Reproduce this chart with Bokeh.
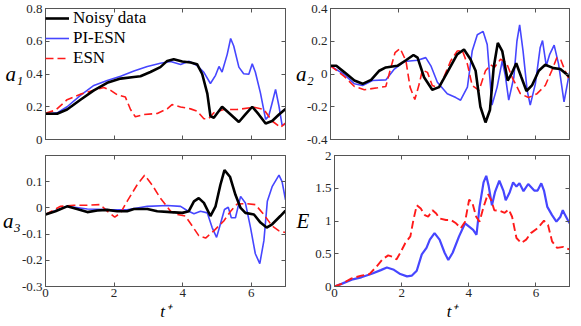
from bokeh.plotting import figure
from bokeh.layouts import column, row
from bokeh.models import FixedTicker, LinearAxis, Legend, LegendItem, Range1d
from bokeh.embed import file_html
from bokeh.resources import INLINE

# ---------------- data ----------------
T_TICKS = [0, 2, 4, 6]
T_TICK_LABELS = ["0", "2", "4", "6"]
T_TITLE = "t\u207a"

A1_TICKS = [0, 0.2, 0.4, 0.6, 0.8]
A1_TICK_LABELS = ["0", "0.2", "0.4", "0.6", "0.8"]
A2_TICKS = [-0.4, -0.2, 0, 0.2, 0.4]
A2_TICK_LABELS = ["-0.4", "-0.2", "0", "0.2", "0.4"]
A3_TICKS = [-0.3, -0.2, -0.1, 0, 0.1]
A3_TICK_LABELS = ["-0.3", "-0.2", "-0.1", "0", "0.1"]
E_TICKS = [0, 0.5, 1, 1.5, 2]
E_TICK_LABELS = ["0", "0.5", "1", "1.5", "2"]

SERIES_NAMES = ["Noisy data", "PI-ESN", "ESN"]

# a1
A1_NOISY_T = [0, 0.34, 0.63, 1.02, 1.41, 1.80, 2.19, 2.58, 2.77, 3.06, 3.35, 3.55, 3.74, 3.99, 4.23, 4.42, 4.57,
              4.72, 4.81, 4.91, 5.15, 5.40, 5.64, 5.83, 6.03, 6.22, 6.42, 6.61, 6.81, 7.0]
A1_NOISY = [0.157, 0.157, 0.183, 0.243, 0.30, 0.346, 0.372, 0.382, 0.386, 0.412, 0.442, 0.48, 0.49, 0.476, 0.47,
            0.46, 0.40, 0.28, 0.143, 0.133, 0.20, 0.153, 0.107, 0.153, 0.20, 0.153, 0.098, 0.113, 0.153, 0.187]
A1_PI_T = [0, 0.34, 0.63, 1.02, 1.41, 1.80, 2.19, 2.58, 2.97, 3.35, 3.65, 3.94, 4.18, 4.42, 4.62, 4.81, 4.96, 5.06,
           5.15, 5.30, 5.40, 5.49, 5.64, 5.78, 5.93, 6.03, 6.12, 6.27, 6.42, 6.51, 6.61, 6.71, 6.81, 6.90, 7.0]
A1_PI = [0.157, 0.163, 0.20, 0.27, 0.33, 0.36, 0.386, 0.418, 0.446, 0.466, 0.476, 0.458, 0.478, 0.452, 0.41, 0.342,
         0.392, 0.446, 0.412, 0.52, 0.617, 0.571, 0.442, 0.402, 0.398, 0.462, 0.412, 0.283, 0.123, 0.143, 0.223,
         0.306, 0.203, 0.088, 0.094]
A1_ESN_T = [0, 0.3, 0.63, 1.02, 1.41, 1.70, 1.90, 2.09, 2.33, 2.48, 2.62, 2.87, 3.26, 3.55, 3.69, 3.94, 4.23, 4.42,
            4.62, 4.76, 4.91, 5.20, 5.59, 6.08, 6.37, 6.61, 6.85, 7.0]
A1_ESN = [0.16, 0.18, 0.243, 0.277, 0.30, 0.318, 0.30, 0.273, 0.259, 0.183, 0.139, 0.153, 0.159, 0.187, 0.213, 0.199,
          0.187, 0.173, 0.127, 0.127, 0.163, 0.183, 0.183, 0.197, 0.183, 0.113, 0.074, 0.10]

# a2
A2_NOISY_T = [0, 0.17, 0.41, 0.70, 0.94, 1.19, 1.43, 1.62, 1.96, 2.21, 2.43, 2.55, 2.74, 2.98, 3.18, 3.42, 3.71,
              3.91, 4.10, 4.25, 4.39, 4.54, 4.67, 4.78, 4.90, 5.03, 5.19, 5.30, 5.44, 5.59, 5.74, 5.90, 6.10, 6.29,
              6.53, 6.73, 7.0]
A2_NOISY = [0.05, 0.05, 0.01, -0.04, -0.06, -0.036, 0.02, 0.04, 0.05, 0.084, 0.116, 0.10, -0.02, -0.096, -0.08,
            0.01, 0.12, 0.15, 0.09, 0.02, -0.20, -0.296, -0.22, 0.04, 0.19, 0.14, -0.04, 0, 0.066, -0.02, -0.104,
            -0.07, 0.02, 0.056, 0.036, 0.03, -0.016]
A2_PI_T = [0, 0.41, 0.70, 0.94, 1.23, 1.62, 1.87, 2.16, 2.55, 2.79, 2.94, 3.13, 3.42, 3.67, 3.81, 4.01, 4.15, 4.30,
           4.47, 4.59, 4.73, 4.88, 5.03, 5.12, 5.22, 5.37, 5.46, 5.54, 5.64, 5.76, 5.85, 6.00, 6.14, 6.21, 6.32,
           6.42, 6.55, 6.68, 6.84, 7.0]
A2_PI = [0.05, -0.004, -0.06, -0.07, -0.04, -0.036, 0.03, 0.076, 0.084, 0.10, 0.05, -0.05, -0.12, -0.144, -0.16,
         -0.08, 0.14, 0.24, 0.26, 0.18, -0.19, -0.08, 0.08, -0.01, -0.16, -0.02, 0.20, 0.30, 0.14, -0.10, -0.19,
         -0.06, 0.16, 0.204, 0.05, 0.12, 0.176, 0.06, -0.17, 0.01]
A2_ESN_T = [0, 0.41, 0.70, 0.99, 1.38, 1.62, 1.77, 1.89, 2.04, 2.21, 2.33, 2.47, 2.60, 2.69, 2.84, 2.98, 3.18, 3.32,
            3.52, 3.71, 3.86, 4.01, 4.15, 4.35, 4.54, 4.69, 4.80, 4.98, 5.15, 5.32, 5.56, 5.80, 6.05, 6.29, 6.48,
            6.63, 6.75, 6.87, 7.0]
A2_ESN = [0.05, -0.016, -0.076, -0.096, -0.084, -0.076, 0.04, 0.13, 0.156, 0.08, -0.08, -0.156, -0.06, 0.024, 0.01,
          -0.07, -0.084, -0.02, 0.08, 0.14, 0.144, 0.06, -0.07, -0.10, 0.02, 0.056, 0.04, 0.09, 0.07, -0.02, -0.12,
          -0.144, -0.12, -0.07, 0.02, 0.10, 0.084, 0.02, -0.04]

# a3
A3_NOISY_T = [0, 0.29, 0.63, 0.92, 1.22, 1.51, 1.80, 2.09, 2.38, 2.58, 2.97, 3.26, 3.65, 3.99, 4.18, 4.33, 4.47,
              4.62, 4.81, 4.96, 5.10, 5.22, 5.38, 5.54, 5.69, 5.83, 6.08, 6.27, 6.45, 6.61, 6.85, 7.0]
A3_NOISY = [-0.025, -0.0125, 0.006, -0.004, -0.016, -0.01, -0.0075, -0.0125, -0.0125, -0.004, -0.004, -0.0125,
            -0.016, -0.019, -0.0125, 0.025, 0.0375, 0.019, -0.031, 0.006, 0.0875, 0.144, 0.119, 0.05, 0, -0.019,
            -0.025, -0.056, -0.075, -0.0625, -0.031, -0.01]
A3_PI_T = [0, 0.63, 1.22, 1.80, 2.38, 2.97, 3.55, 3.94, 4.13, 4.33, 4.52, 4.72, 4.86, 4.99, 5.10, 5.22, 5.33, 5.42,
           5.54, 5.69, 5.83, 5.98, 6.12, 6.25, 6.37, 6.47, 6.61, 6.81, 6.90, 7.0]
A3_PI = [-0.025, 0.006, -0.004, -0.006, -0.0075, 0.006, 0.009, 0.006, -0.01, -0.022, -0.0125, -0.019, -0.075,
         -0.1125, -0.0625, -0.006, 0.0025, -0.0375, -0.0375, 0.044, 0.019, -0.075, -0.175, -0.2125, -0.125, 0.025,
         0.081, 0.125, 0.10, 0.031]
A3_ESN_T = [0, 0.44, 0.83, 1.22, 1.60, 1.80, 2.02, 2.19, 2.38, 2.67, 2.89, 3.11, 3.35, 3.65, 3.84, 4.08, 4.28, 4.47,
            4.67, 4.91, 5.20, 5.40, 5.59, 5.88, 6.12, 6.37, 6.61, 6.81, 7.0]
A3_ESN = [-0.025, 0.006, 0.01, 0.01, 0.0125, -0.0125, -0.035, -0.019, 0.025, 0.0875, 0.125, 0.0875, 0.0375, -0.0125,
          -0.025, -0.031, -0.069, -0.106, -0.115, -0.0875, -0.05, -0.0125, 0.015, 0.016, 0.0125, -0.025, -0.069,
          -0.0875, -0.094]

# E
E_PI_T = [0, 0.21, 0.51, 0.80, 1.09, 1.38, 1.56, 1.77, 1.96, 2.16, 2.30, 2.45, 2.60, 2.74, 2.84, 2.98, 3.13, 3.28,
          3.39, 3.52, 3.71, 3.89, 4.01, 4.13, 4.23, 4.32, 4.44, 4.52, 4.59, 4.69, 4.78, 4.91, 5.03, 5.10, 5.22, 5.32,
          5.42, 5.51, 5.63, 5.77, 5.95, 6.05, 6.16, 6.24, 6.34, 6.48, 6.61, 6.73, 6.80, 6.87, 7.0]
E_PI = [0, 0.04, 0.105, 0.14, 0.19, 0.25, 0.29, 0.255, 0.19, 0.155, 0.165, 0.24, 0.49, 0.59, 0.715, 0.815, 0.715,
        0.515, 0.405, 0.515, 0.765, 0.965, 0.915, 0.865, 0.79, 1.215, 1.59, 1.69, 1.54, 1.24, 1.44, 1.615, 1.465,
        1.315, 1.44, 1.59, 1.525, 1.575, 1.455, 1.565, 1.465, 1.465, 1.575, 1.465, 1.215, 1.09, 0.99, 1.065, 1.165,
        1.09, 0.965]
E_ESN_T = [0, 0.21, 0.51, 0.80, 1.04, 1.23, 1.43, 1.60, 1.72, 1.85, 1.96, 2.11, 2.26, 2.35, 2.45, 2.57, 2.69, 2.79,
           2.92, 3.03, 3.13, 3.32, 3.47, 3.62, 3.76, 3.89, 4.01, 4.10, 4.22, 4.32, 4.44, 4.57, 4.67, 4.76, 4.93,
           5.07, 5.19, 5.29, 5.42, 5.56, 5.71, 5.85, 6.05, 6.24, 6.36, 6.48, 6.63, 6.82, 7.0]
E_ESN = [0, 0.04, 0.125, 0.165, 0.19, 0.29, 0.415, 0.475, 0.455, 0.415, 0.515, 0.665, 0.765, 1.015, 1.24, 1.19,
         1.09, 1.065, 1.165, 1.115, 1.04, 1.015, 1.015, 0.965, 0.89, 0.99, 1.325, 1.29, 1.065, 0.99, 1.215, 1.415,
         1.315, 1.165, 1.155, 1.125, 1.175, 1.065, 0.74, 0.665, 0.715, 0.815, 0.89, 1.005, 0.94, 0.69, 0.59, 0.605,
         0.565]

# ---------------- style ----------------
SERIF = "Liberation Serif"
AX_COLOR = "#555555"
BLUE = "#4646ff"
RED = "#ff1a1a"
FRAME_W, FRAME_H = 240, 131
LEFT_L, LEFT_R, RIGHT_B = 45, 36, 8
TOP_B, MID_T, MID_B, BOT_B = 8, 8, 8, 39


def style_axis(ax, ticks, labels, show):
    ax.ticker = FixedTicker(ticks=ticks)
    if show:
        ax.major_label_overrides = dict(zip(ticks, labels))
        ax.major_label_text_font_size = "13px"
        ax.major_label_standoff = 3
    else:
        ax.major_label_overrides = {t: "" for t in ticks}
        ax.major_label_text_font_size = "1px"
        ax.major_label_standoff = 0
    ax.major_label_text_font = SERIF
    ax.major_label_text_color = "#262626"
    ax.major_tick_in = 4
    ax.major_tick_out = 0
    ax.minor_tick_in = 0
    ax.minor_tick_out = 0
    ax.axis_line_color = AX_COLOR
    ax.major_tick_line_color = AX_COLOR


def make_fig(yr, yticks, ylabels, ytitle, ylab_standoff, bottom_labels, b_left, b_top, b_bottom):
    w = b_left + FRAME_W + RIGHT_B
    h = b_top + FRAME_H + b_bottom
    p = figure(width=w, height=h, x_range=Range1d(0, 7), y_range=Range1d(*yr),
               output_backend="svg", toolbar_location=None,
               min_border_left=b_left, min_border_right=RIGHT_B,
               min_border_top=b_top, min_border_bottom=b_bottom)
    p.xgrid.visible = False
    p.ygrid.visible = False
    p.outline_line_color = AX_COLOR
    p.background_fill_color = "white"
    p.border_fill_color = "white"
    xb = p.xaxis[0]
    yl = p.yaxis[0]
    style_axis(xb, T_TICKS, T_TICK_LABELS, bottom_labels)
    style_axis(yl, yticks, ylabels, True)
    yl.axis_label = ytitle
    yl.axis_label_orientation = "horizontal"
    yl.axis_label_text_font = SERIF
    yl.axis_label_text_font_style = "italic"
    yl.axis_label_text_font_size = "21px"
    yl.axis_label_text_color = "black"
    yl.axis_label_standoff = ylab_standoff
    if bottom_labels:
        xb.major_label_standoff = 2
        xb.axis_label = T_TITLE
        xb.axis_label_text_font = SERIF
        xb.axis_label_text_font_style = "italic"
        xb.axis_label_text_font_size = "17px"
        xb.axis_label_text_color = "black"
        xb.axis_label_standoff = 2
    xt = LinearAxis()
    style_axis(xt, T_TICKS, T_TICK_LABELS, False)
    p.add_layout(xt, "above")
    yr_ax = LinearAxis()
    style_axis(yr_ax, yticks, ylabels, False)
    p.add_layout(yr_ax, "right")
    return p


p1 = make_fig((0, 0.8), A1_TICKS, A1_TICK_LABELS, "a\u2081", 0, False, LEFT_L, TOP_B, MID_B)
r_pi = p1.line(A1_PI_T, A1_PI, line_color=BLUE, line_width=1.6)
r_esn = p1.line(A1_ESN_T, A1_ESN, line_color=RED, line_width=1.6, line_dash="8 4")
r_noisy = p1.line(A1_NOISY_T, A1_NOISY, line_color="black", line_width=2.6)
legend = Legend(items=[LegendItem(label=SERIES_NAMES[0], renderers=[r_noisy]),
                       LegendItem(label=SERIES_NAMES[1], renderers=[r_pi]),
                       LegendItem(label=SERIES_NAMES[2], renderers=[r_esn])],
                location="top_left", margin=0, padding=0, spacing=-7,
                glyph_width=24, glyph_height=14, label_height=14, label_standoff=4,
                label_text_font=SERIF, label_text_font_size="17px", label_text_color="black",
                background_fill_alpha=0, border_line_alpha=0)
p1.add_layout(legend)

p2 = make_fig((-0.4, 0.4), A2_TICKS, A2_TICK_LABELS, "a\u2082", -10, False, LEFT_R, TOP_B, MID_B)
p2.line(A2_PI_T, A2_PI, line_color=BLUE, line_width=1.6)
p2.line(A2_ESN_T, A2_ESN, line_color=RED, line_width=1.6, line_dash="8 4")
p2.line(A2_NOISY_T, A2_NOISY, line_color="black", line_width=2.6)

p3 = make_fig((-0.3, 0.2), A3_TICKS, A3_TICK_LABELS, "a\u2083", -2, True, LEFT_L, MID_T, BOT_B)
p3.line(A3_PI_T, A3_PI, line_color=BLUE, line_width=1.6)
p3.line(A3_ESN_T, A3_ESN, line_color=RED, line_width=1.6, line_dash="8 4")
p3.line(A3_NOISY_T, A3_NOISY, line_color="black", line_width=2.6)

p4 = make_fig((0, 2), E_TICKS, E_TICK_LABELS, "E", 3, True, LEFT_R, MID_T, BOT_B)
p4.line(E_PI_T, E_PI, line_color=BLUE, line_width=2.2)
p4.line(E_ESN_T, E_ESN, line_color=RED, line_width=1.9, line_dash="8 4")

layout = column(row(p1, p2), row(p3, p4))

open("out.html", "w").write(file_html(layout, INLINE))
